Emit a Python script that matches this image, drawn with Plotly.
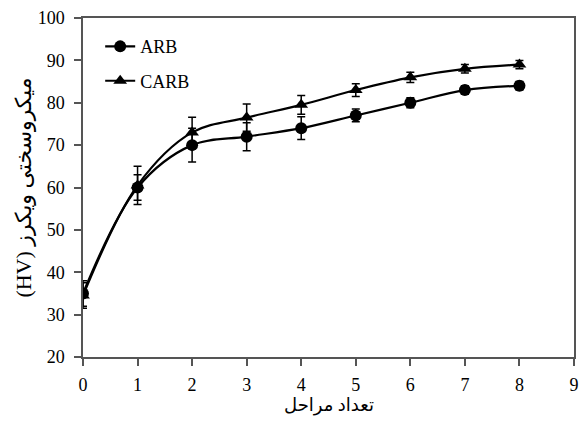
import plotly.graph_objects as go

stages = [0, 1, 2, 3, 4, 5, 6, 7, 8]
arb = [35, 60, 70, 72, 74, 77, 80, 83, 84]
arb_err = [3, 3, 4, 3.3, 2.7, 1.5, 1.2, 1.0, 1.0]
carb = [34.5, 60.5, 73, 76.5, 79.5, 83, 86, 88, 89]
carb_err = [3, 4.5, 3.6, 3.2, 2.2, 1.5, 1.2, 1.0, 1.0]

x_ticks = [0, 1, 2, 3, 4, 5, 6, 7, 8, 9]
y_ticks = [20, 30, 40, 50, 60, 70, 80, 90, 100]

x_title = "تعداد مراحل"
y_title = "\u202Bمیکروسختی ویکرز (HV)\u202C"

font_serif = "Liberation Serif, serif"
font_fa = "Liberation Serif, DejaVu Sans"

fig = go.Figure()
fig.add_trace(go.Scatter(
    x=stages, y=arb, name="ARB", mode="lines+markers",
    line=dict(color="black", width=2.2, shape="spline", smoothing=1),
    marker=dict(symbol="circle", size=12, color="black"),
    error_y=dict(type="data", array=arb_err, color="black", thickness=1.5, width=4),
    legendgroup="a",
))
fig.add_trace(go.Scatter(
    x=stages, y=carb, name="CARB", mode="lines+markers",
    line=dict(color="black", width=2.2, shape="spline", smoothing=1),
    marker=dict(symbol="triangle-up", size=12, color="black"),
    error_y=dict(type="data", array=carb_err, color="black", thickness=1.5, width=4),
    legendgroup="b",
))

axis_common = dict(
    showgrid=False, zeroline=False, showline=True, mirror=True,
    linecolor="#555555", linewidth=1.5,
    ticks="outside", ticklen=7, tickwidth=1.5, tickcolor="#555555",
    tickfont=dict(family=font_serif, size=18, color="black"),
    automargin=False,
)

fig.update_layout(
    width=581, height=421,
    margin=dict(l=83, r=7, t=18, b=64),
    paper_bgcolor="white", plot_bgcolor="white",
    font=dict(family=font_serif, color="black"),
    showlegend=True,
    legend=dict(
        x=0.035, y=0.97, xanchor="left", yanchor="top",
        font=dict(family=font_serif, size=18, color="black"),
        bgcolor="rgba(0,0,0,0)", tracegroupgap=8,
    ),
    xaxis=dict(
        range=[0, 9], tickmode="array", tickvals=x_ticks,
        ticktext=[str(v) for v in x_ticks],
        ticklabeloverflow="allow", ticklabelstandoff=4,
        **axis_common,
    ),
    yaxis=dict(
        range=[20, 100], tickmode="array", tickvals=y_ticks,
        ticktext=[str(v) for v in y_ticks],
        ticklabelstandoff=6,
        **axis_common,
    ),
    annotations=[
        dict(text=x_title, xref="paper", yref="paper", x=0.5, y=-0.142,
             xanchor="center", yanchor="middle", showarrow=False,
             font=dict(family=font_fa, size=18, color="black")),
        dict(text=y_title, xref="paper", yref="paper", x=-0.122, y=0.5,
             xanchor="center", yanchor="middle", showarrow=False, textangle=-90,
             font=dict(family=font_fa, size=22, color="black")),
    ],
)

fig.write_html("out.html", config={"displayModeBar": False},
               post_script="document.body.style.margin='0';")
